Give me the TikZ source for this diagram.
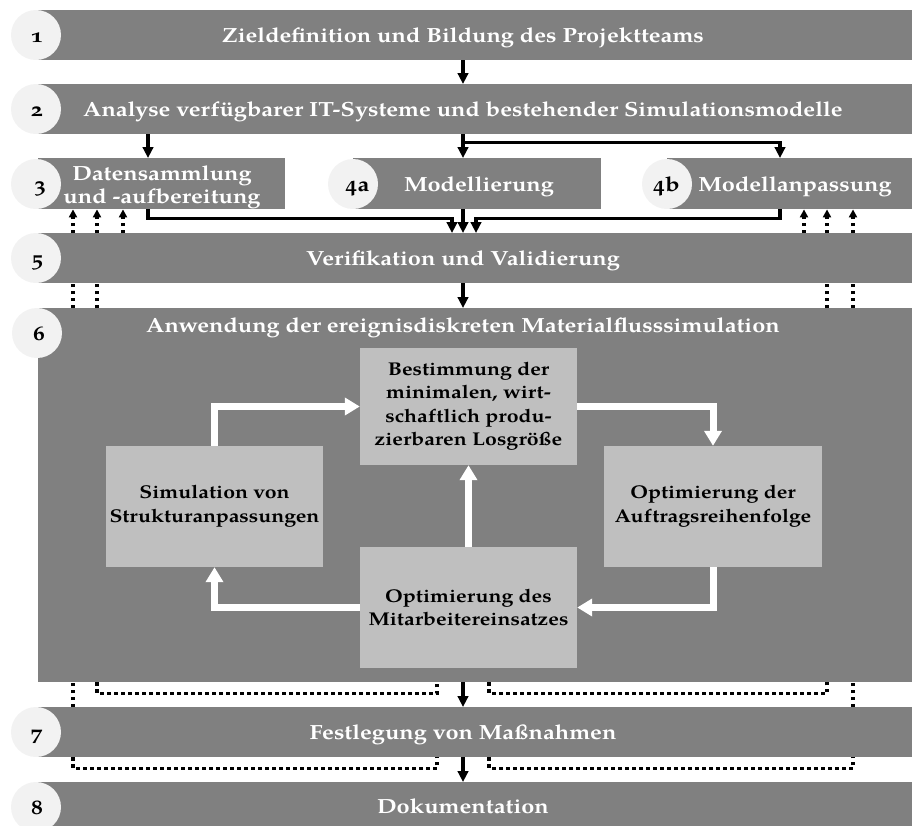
\documentclass[tikz,border=0pt]{standalone}
\usepackage{fontspec}
\setmainfont{texgyrepagella}[Extension=.otf, UprightFont=*-regular, BoldFont=*-bold, ItalicFont=*-italic, BoldItalicFont=*-bolditalic, Numbers=OldStyle, FakeStretch=1.15]
\usetikzlibrary{arrows.meta}
\definecolor{barGray}{HTML}{808080}
\definecolor{boxGray}{HTML}{BFBFBF}
\definecolor{numGray}{HTML}{F2F2F2}

\begin{document}
\begin{tikzpicture}[x=1pt,y=-1pt,
  bar/.style={fill=barGray, draw=none, inner sep=0pt, anchor=north west},
  bartext/.style={text=white, anchor=base, inner sep=0pt, font=\fontsize{20.5}{23}\selectfont\bfseries, align=center},
  numcircle/.style={circle, fill=numGray, draw=none, minimum size=50pt, inner sep=0pt},
  numtext/.style={text=black, anchor=base, inner sep=0pt, font=\fontsize{20.5}{23}\selectfont\bfseries},
  stepbox/.style={fill=boxGray, draw=none, inner sep=2pt, align=center, text=black,
    font=\fontsize{18.5}{23.5}\selectfont\bfseries},
  arr/.style={line width=3.2pt, -{Triangle[width=10.5pt,length=11pt]}},
  dotarr/.style={line width=3.5pt, dash pattern=on 3.5pt off 3.5pt, -{Triangle[width=8pt,length=8pt]}},
  dotline/.style={line width=3.5pt, dash pattern=on 3.5pt off 3.5pt},
  warr/.style={white, line width=7pt, -{Triangle[width=17pt,length=15pt]}}
]
\useasboundingbox (0,0) rectangle (912,825);

% guide coordinates for vertical connector positions
\coordinate (mid) at (463,0);
\coordinate (xA) at (148,0);
\coordinate (xB) at (780,0);
\coordinate (xM1) at (452,0);
\coordinate (xM2) at (476,0);
\coordinate (xL1) at (73,0);
\coordinate (xL2) at (97,0);
\coordinate (xL3) at (123,0);
\coordinate (xR1) at (804,0);
\coordinate (xR2) at (827,0);
\coordinate (xR3) at (853,0);
\coordinate (xU1) at (437,0);
\coordinate (xU2) at (489,0);

% process bars
\node[bar, minimum width=874pt, minimum height=50pt] (b1) at (38,10) {};
\node[bar, minimum width=874pt, minimum height=50pt] (b2) at (38,84) {};
\node[bar, minimum width=247pt, minimum height=51pt] (b3) at (38,158) {};
\node[bar, minimum width=248pt, minimum height=51pt] (b4a) at (353,158) {};
\node[bar, minimum width=245pt, minimum height=51pt] (b4b) at (667,158) {};
\node[bar, minimum width=874pt, minimum height=50pt] (b5) at (38,233) {};
\node[bar, minimum width=874pt, minimum height=374pt] (b6) at (38,308) {};
\node[bar, minimum width=874pt, minimum height=50pt] (b7) at (38,707) {};
\node[bar, minimum width=874pt, minimum height=50pt] (b8) at (38,782) {};

% step numbers
\node[numcircle] (c1) at (36,35) {};
\node[numcircle] (c2) at (36,109) {};
\node[numcircle] (c3) at (36,184) {};
\node[numcircle] (c4a) at (353,184) {};
\node[numcircle] (c4b) at (667,184) {};
\node[numcircle] (c5) at (36,258) {};
\node[numcircle] (c6) at (37,333) {};
\node[numcircle] (c7) at (36,732) {};
\node[numcircle] (c8) at (36,807) {};
\node[numtext] (n1) at (37,42) {1};
\node[numtext] (n2) at (37,116) {2};
\node[numtext] (n3) at (40,191) {3};
\node[numtext] (n4a) at (357,191) {4a};
\node[numtext] (n4b) at (666,191) {4b};
\node[numtext] (n5) at (37,265) {5};
\node[numtext] (n6) at (39,340) {6};
\node[numtext] (n7) at (37,739) {7};
\node[numtext] (n8) at (37,814) {8};

% bar titles
\node[bartext] (t1) at (463,42) {Zieldefinition und Bildung des Projektteams};
\node[bartext] (t2) at (463,116) {Analyse verfügbarer IT-Systeme und bestehender Simulationsmodelle};
\node[bartext] (t3) at (162,203) {Datensammlung\\und -aufbereitung};
\node[bartext] (t4a) at (479,191) {Modellierung};
\node[bartext] (t4b) at (795,191) {Modellanpassung};
\node[bartext] (t5) at (463,265) {Verifikation und Validierung};
\node[bartext] (t6) at (463,332) {Anwendung der ereignisdiskreten Materialflusssimulation};
\node[bartext] (t7) at (463,739) {Festlegung von Maßnahmen};
\node[bartext] (t8) at (463,813) {Dokumentation};

% simulation cycle
\node[stepbox, minimum width=217pt, minimum height=117pt] (tb) at (468.5,406.5)
  {Bestimmung der\\minimalen, wirt-\\schaftlich produ-\\zierbaren Losgröße};
\node[stepbox, minimum width=217pt, minimum height=121pt] (lb) at (214.5,506.5)
  {Simulation von\\Strukturanpassungen};
\node[stepbox, minimum width=218pt, minimum height=121pt] (rb) at (713,506.5)
  {Optimierung der\\Auftragsreihenfolge};
\node[stepbox, minimum width=217pt, minimum height=121pt] (bb) at (468.5,607.5)
  {Optimierung des\\Mitarbeitereinsatzes};

\draw[warr] (lb.north) |- (tb.west);
\draw[warr] (tb.east) -| (rb.north);
\draw[warr] (rb.south) |- (bb.east);
\draw[warr] (bb.west) -| (lb.south);
\draw[warr] (bb.north) -- (tb.south);

% main flow
\draw[arr] (b1.south -| mid) -- (b2.north -| mid);
\draw[arr] (b2.south -| xA) -- (b3.north -| xA);
\draw[arr] (b2.south -| mid) -- (b4a.north -| mid);
\draw[arr] (b2.south -| mid) -- ++(0,8) -| (b4b.north -| xB);
\draw[arr] (b3.south -| xA) -- ++(0,9) -| (b5.north -| xM1);
\draw[arr] (b4a.south -| mid) -- (b5.north -| mid);
\draw[arr] (b4b.south -| xB) -- ++(0,9) -| (b5.north -| xM2);
\draw[arr] (b5.south -| mid) -- (b6.north -| mid);
\draw[arr] (b6.south -| mid) -- (b7.north -| mid);
\draw[arr] (b7.south -| mid) -- (b8.north -| mid);

% feedback paths
\draw[dotarr] (b5.north -| xL1) -- (b3.south -| xL1);
\draw[dotarr] (b5.north -| xL2) -- (b3.south -| xL2);
\draw[dotarr] (b5.north -| xL3) -- (b3.south -| xL3);
\draw[dotarr] (b5.north -| xR1) -- (b4b.south -| xR1);
\draw[dotarr] (b5.north -| xR2) -- (b4b.south -| xR2);
\draw[dotarr] (b5.north -| xR3) -- (b4b.south -| xR3);

\draw[dotline] (b6.north -| xL1) -- (b5.south -| xL1);
\draw[dotline] (b6.north -| xL2) -- (b5.south -| xL2);
\draw[dotline] (b6.north -| xR2) -- (b5.south -| xR2);
\draw[dotline] (b6.north -| xR3) -- (b5.south -| xR3);

\draw[dotline] (b7.north -| xL1) -- (b6.south -| xL1);
\draw[dotline] (b7.north -| xR3) -- (b6.south -| xR3);
\draw[dotline] (b6.south -| xL2) -- ++(0,11) -| (b6.south -| xU1);
\draw[dotline] (b6.south -| xU2) -- ++(0,11) -| (b6.south -| xR2);

\draw[dotline] (b7.south -| xL1) -- ++(0,11) -| (b7.south -| xU1);
\draw[dotline] (b7.south -| xU2) -- ++(0,11) -| (b7.south -| xR3);
\end{tikzpicture}
\end{document}
